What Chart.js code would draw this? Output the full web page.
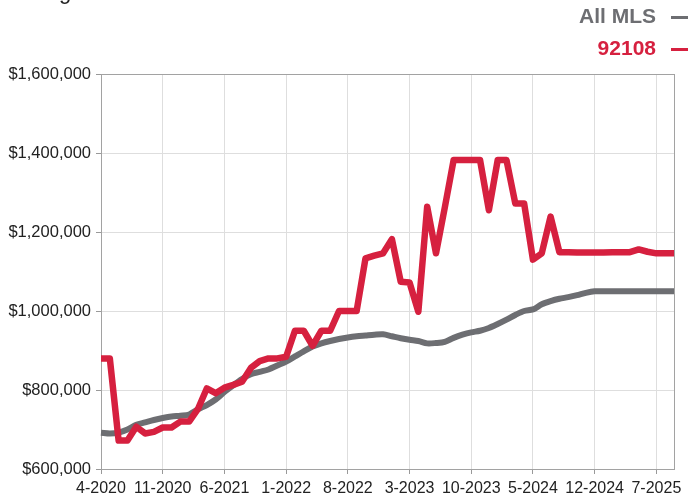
<!DOCTYPE html>
<html>
<head>
<meta charset="utf-8">
<script src="https://cdn.jsdelivr.net/npm/chart.js@4"></script>
<style>
  body { margin: 0; background: #fff; }
  #wrap { position: relative; width: 688px; height: 495px; overflow: hidden; }
  #title { position: absolute; left: 4px; top: -21px; font: 22px "Liberation Sans", Arial, sans-serif; color: #222; white-space: nowrap; }
  .leg { position: absolute; right: 0; font: bold 21px "Liberation Sans", Arial, sans-serif; white-space: nowrap; }
  .leg .dash { display: inline-block; width: 17px; height: 2.5px; margin-left: 15px; vertical-align: middle; }
</style>
</head>
<body>
<div id="wrap">
  <div id="title">Rolling 12-Month Calculation</div>
  <div class="leg" id="legMls" style="top: 4px; color: #6d6e72;">All MLS<span class="dash" style="background:#6d6e72"></span></div>
  <div class="leg" id="legZip" style="top: 36px; color: #d6203f;">92108<span class="dash" style="background:#d6203f"></span></div>
  <canvas id="chart" width="688" height="495"></canvas>
</div>
<script>
// months 4-2020 .. 9-2025
const months = [
  '4-2020', '5-2020', '6-2020', '7-2020', '8-2020', '9-2020', '10-2020', '11-2020', '12-2020',
  '1-2021', '2-2021', '3-2021', '4-2021', '5-2021', '6-2021', '7-2021', '8-2021', '9-2021', '10-2021', '11-2021', '12-2021',
  '1-2022', '2-2022', '3-2022', '4-2022', '5-2022', '6-2022', '7-2022', '8-2022', '9-2022', '10-2022', '11-2022', '12-2022',
  '1-2023', '2-2023', '3-2023', '4-2023', '5-2023', '6-2023', '7-2023', '8-2023', '9-2023', '10-2023', '11-2023', '12-2023',
  '1-2024', '2-2024', '3-2024', '4-2024', '5-2024', '6-2024', '7-2024', '8-2024', '9-2024', '10-2024', '11-2024', '12-2024',
  '1-2025', '2-2025', '3-2025', '4-2025', '5-2025', '6-2025', '7-2025', '8-2025', '9-2025'
];

// values in $1000s
const allMls = [
  692, 690, 692, 700, 712, 718, 724, 729, 733, 735, 738, 751, 762, 776, 795, 812, 828, 840, 846, 852,
  862, 872, 885, 898, 910, 918, 924, 929, 933, 936, 938, 940, 941, 936, 931, 927, 924, 918, 919, 922,
  932, 940, 946, 950, 957, 967, 978, 990, 1000, 1004, 1017, 1025, 1031, 1035, 1040, 1046, 1050, 1050,
  1050, 1050, 1050, 1050, 1050, 1050, 1050, 1050
];

const zip92108 = [
  880, 880, 672, 672, 707, 690, 694, 705, 705, 720, 720, 752, 804, 792, 806, 813, 821, 856, 873, 880,
  880, 884, 950, 950, 912, 950, 950, 1000, 1000, 1000, 1133, 1140, 1146, 1182, 1074, 1072, 998, 1264,
  1146, 1262, 1382, 1382, 1382, 1382, 1255, 1382, 1382, 1272, 1272, 1130, 1146, 1239, 1149, 1149, 1148,
  1148, 1148, 1148, 1149, 1149, 1149, 1156, 1150, 1146, 1146, 1146
];

const yTicks = [600000, 800000, 1000000, 1200000, 1400000, 1600000];

const RED = '#d6203f';
const GRAY = '#6d6e72';
const FONT = '"Liberation Sans", Arial, sans-serif';

// box around the plot, under the lines
const frame = {
  id: 'frame',
  beforeDatasetsDraw(chart) {
    const a = chart.chartArea;
    const ctx = chart.ctx;
    ctx.save();
    ctx.strokeStyle = '#a2a2a2';
    ctx.lineWidth = 1;
    ctx.strokeRect(a.left + 0.5, a.top + 0.5, a.right - a.left, a.bottom - a.top);
    ctx.restore();
  }
};

new Chart(document.getElementById('chart'), {
  type: 'line',
  data: {
    labels: months,
    datasets: [
      {
        label: '92108',
        data: zip92108.map(v => v * 1000),
        borderColor: RED,
        borderWidth: 6.5,
        pointRadius: 0,
        tension: 0,
        borderJoinStyle: 'round',
        fill: false,
        order: 0
      },
      {
        label: 'All MLS',
        data: allMls.map(v => v * 1000),
        borderColor: GRAY,
        borderWidth: 6,
        pointRadius: 0,
        tension: 0.3,
        borderJoinStyle: 'round',
        fill: false,
        order: 1
      }
    ]
  },
  options: {
    responsive: false,
    animation: false,
    layout: { padding: { top: 74, right: 14, left: 0, bottom: 0 } },
    plugins: {
      legend: { display: false },
      tooltip: { enabled: false }
    },
    scales: {
      x: {
        afterFit: s => { s.height = 26; },
        border: { color: '#999', width: 1 },
        grid: { color: '#dedede', tickLength: 5, tickColor: '#999' },
        ticks: {
          autoSkip: false,
          maxRotation: 0,
          minRotation: 0,
          padding: 5,
          color: '#222',
          font: { family: FONT, size: 16 },
          callback: (val, idx) => idx % 7 === 0 ? months[idx] : null
        }
      },
      y: {
        min: 600000,
        max: 1600000,
        afterFit: s => { s.width = 101; },
        afterBuildTicks: s => { s.ticks = yTicks.map(v => ({ value: v })); },
        border: { color: '#999', width: 1 },
        grid: { color: '#dedede', tickLength: 5, tickColor: '#999' },
        ticks: {
          padding: 5,
          color: '#222',
          font: { family: FONT, size: 16.5 },
          callback: v => '$' + v.toLocaleString('en-US')
        }
      }
    }
  },
  plugins: [frame]
});
</script>
</body>
</html>
